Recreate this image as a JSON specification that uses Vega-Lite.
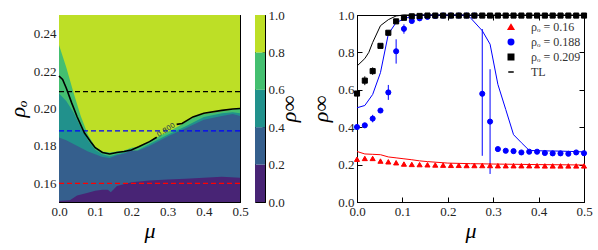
{
  "$schema": "https://vega.github.io/schema/vega-lite/v6.json",
  "padding": {"left": 5, "top": 8, "right": 5, "bottom": 5},
  "background": "white",
  "spacing": 9,
  "resolve": {"scale": {"color": "independent", "stroke": "independent", "shape": "independent"}},
  "config": {
    "view": {"stroke": "black", "strokeWidth": 1},
    "font": "Liberation Serif, DejaVu Serif, serif",
    "axis": {"grid": false, "labelFont": "Liberation Serif, DejaVu Serif, serif", "labelFontSize": 13, "labelColor": "#222222", "labelOverlap": false, "labelFlush": false, "tickColor": "black", "domainColor": "black", "tickSize": -5, "labelPadding": 8, "titleFont": "Liberation Serif, DejaVu Serif, serif", "titleFontSize": 22, "titleFontStyle": "italic", "titleFontWeight": "normal", "titleColor": "black"},
    "legend": {"padding": 0}
  },
  "datasets": {
    "b08": [
      {"mu": 0, "rho": 0.234}, {"mu": 0.02, "rho": 0.222}, {"mu": 0.04, "rho": 0.2085}, {"mu": 0.06, "rho": 0.196},
      {"mu": 0.08, "rho": 0.186}, {"mu": 0.1, "rho": 0.1795}, {"mu": 0.12, "rho": 0.177}, {"mu": 0.14, "rho": 0.1765},
      {"mu": 0.16, "rho": 0.177}, {"mu": 0.18, "rho": 0.1775}, {"mu": 0.2, "rho": 0.179}, {"mu": 0.22, "rho": 0.1795},
      {"mu": 0.25, "rho": 0.1825}, {"mu": 0.28, "rho": 0.1855}, {"mu": 0.3, "rho": 0.1875}, {"mu": 0.33, "rho": 0.1905},
      {"mu": 0.36, "rho": 0.194}, {"mu": 0.38, "rho": 0.196}, {"mu": 0.4, "rho": 0.197}, {"mu": 0.45, "rho": 0.1985}, {"mu": 0.5, "rho": 0.2}
    ],
    "b06": [
      {"mu": 0, "rho": 0.208}, {"mu": 0.02, "rho": 0.204}, {"mu": 0.04, "rho": 0.198}, {"mu": 0.06, "rho": 0.19},
      {"mu": 0.08, "rho": 0.183}, {"mu": 0.1, "rho": 0.178}, {"mu": 0.12, "rho": 0.1755}, {"mu": 0.14, "rho": 0.1745},
      {"mu": 0.16, "rho": 0.1755}, {"mu": 0.18, "rho": 0.1765}, {"mu": 0.2, "rho": 0.178}, {"mu": 0.21, "rho": 0.176},
      {"mu": 0.22, "rho": 0.178}, {"mu": 0.25, "rho": 0.181}, {"mu": 0.3, "rho": 0.186}, {"mu": 0.35, "rho": 0.1905},
      {"mu": 0.4, "rho": 0.1955}, {"mu": 0.45, "rho": 0.1975}, {"mu": 0.48, "rho": 0.198}, {"mu": 0.5, "rho": 0.1975}
    ],
    "b04": [
      {"mu": 0, "rho": 0.1845}, {"mu": 0.02, "rho": 0.183}, {"mu": 0.04, "rho": 0.181}, {"mu": 0.06, "rho": 0.179},
      {"mu": 0.08, "rho": 0.177}, {"mu": 0.1, "rho": 0.1755}, {"mu": 0.12, "rho": 0.174}, {"mu": 0.14, "rho": 0.1735},
      {"mu": 0.16, "rho": 0.175}, {"mu": 0.18, "rho": 0.176}, {"mu": 0.2, "rho": 0.1775}, {"mu": 0.22, "rho": 0.1775},
      {"mu": 0.25, "rho": 0.18}, {"mu": 0.3, "rho": 0.185}, {"mu": 0.35, "rho": 0.1895}, {"mu": 0.4, "rho": 0.194},
      {"mu": 0.45, "rho": 0.196}, {"mu": 0.48, "rho": 0.197}, {"mu": 0.5, "rho": 0.196}
    ],
    "b02": [
      {"mu": 0, "rho": 0.1505}, {"mu": 0.03, "rho": 0.151}, {"mu": 0.05, "rho": 0.1535}, {"mu": 0.08, "rho": 0.155},
      {"mu": 0.1, "rho": 0.156}, {"mu": 0.12, "rho": 0.1565}, {"mu": 0.135, "rho": 0.1565}, {"mu": 0.143, "rho": 0.1552},
      {"mu": 0.16, "rho": 0.1585}, {"mu": 0.2, "rho": 0.1605}, {"mu": 0.25, "rho": 0.1615}, {"mu": 0.3, "rho": 0.162},
      {"mu": 0.35, "rho": 0.1625}, {"mu": 0.4, "rho": 0.163}, {"mu": 0.45, "rho": 0.1635}, {"mu": 0.5, "rho": 0.163}
    ],
    "k08": [
      {"seg": "a", "mu": 0, "rho": 0.2174}, {"seg": "a", "mu": 0.01, "rho": 0.2155}, {"seg": "a", "mu": 0.02, "rho": 0.211},
      {"seg": "a", "mu": 0.035, "rho": 0.203}, {"seg": "a", "mu": 0.05, "rho": 0.1956}, {"seg": "a", "mu": 0.07, "rho": 0.187},
      {"seg": "a", "mu": 0.09, "rho": 0.1815}, {"seg": "a", "mu": 0.1, "rho": 0.179}, {"seg": "a", "mu": 0.12, "rho": 0.1765},
      {"seg": "a", "mu": 0.14, "rho": 0.1757}, {"seg": "a", "mu": 0.16, "rho": 0.1765}, {"seg": "a", "mu": 0.18, "rho": 0.177},
      {"seg": "a", "mu": 0.2, "rho": 0.1778}, {"seg": "a", "mu": 0.22, "rho": 0.1795}, {"seg": "a", "mu": 0.25, "rho": 0.1823},
      {"seg": "a", "mu": 0.27, "rho": 0.1846},
      {"seg": "b", "mu": 0.325, "rho": 0.1915}, {"seg": "b", "mu": 0.34, "rho": 0.192}, {"seg": "b", "mu": 0.37, "rho": 0.1955},
      {"seg": "b", "mu": 0.4, "rho": 0.1975}, {"seg": "b", "mu": 0.45, "rho": 0.199}, {"seg": "b", "mu": 0.48, "rho": 0.1997},
      {"seg": "b", "mu": 0.5, "rho": 0.2}
    ],
    "tl": [
      {"series": "ρₒ = 0.16", "mu": 0, "rho": 0.27}, {"series": "ρₒ = 0.16", "mu": 0.0172, "rho": 0.257}, {"series": "ρₒ = 0.16", "mu": 0.0345, "rho": 0.255},
      {"series": "ρₒ = 0.16", "mu": 0.0517, "rho": 0.253}, {"series": "ρₒ = 0.16", "mu": 0.069, "rho": 0.241}, {"series": "ρₒ = 0.16", "mu": 0.0862, "rho": 0.236},
      {"series": "ρₒ = 0.16", "mu": 0.1034, "rho": 0.231}, {"series": "ρₒ = 0.16", "mu": 0.1207, "rho": 0.226}, {"series": "ρₒ = 0.16", "mu": 0.1379, "rho": 0.22},
      {"series": "ρₒ = 0.16", "mu": 0.1552, "rho": 0.216}, {"series": "ρₒ = 0.16", "mu": 0.1724, "rho": 0.213}, {"series": "ρₒ = 0.16", "mu": 0.2, "rho": 0.208},
      {"series": "ρₒ = 0.16", "mu": 0.25, "rho": 0.205}, {"series": "ρₒ = 0.16", "mu": 0.3, "rho": 0.203}, {"series": "ρₒ = 0.16", "mu": 0.4, "rho": 0.2},
      {"series": "ρₒ = 0.16", "mu": 0.5, "rho": 0.198},
      {"series": "ρₒ = 0.188", "mu": 0, "rho": 0.504}, {"series": "ρₒ = 0.188", "mu": 0.0172, "rho": 0.516}, {"series": "ρₒ = 0.188", "mu": 0.0345, "rho": 0.575},
      {"series": "ρₒ = 0.188", "mu": 0.0517, "rho": 0.692}, {"series": "ρₒ = 0.188", "mu": 0.069, "rho": 0.898}, {"series": "ρₒ = 0.188", "mu": 0.0862, "rho": 0.96},
      {"series": "ρₒ = 0.188", "mu": 0.1034, "rho": 0.978}, {"series": "ρₒ = 0.188", "mu": 0.1207, "rho": 0.995}, {"series": "ρₒ = 0.188", "mu": 0.1379, "rho": 1.0},
      {"series": "ρₒ = 0.188", "mu": 0.2335, "rho": 1.0}, {"series": "ρₒ = 0.188", "mu": 0.248, "rho": 0.99}, {"series": "ρₒ = 0.188", "mu": 0.2759, "rho": 0.916},
      {"series": "ρₒ = 0.188", "mu": 0.2931, "rho": 0.844}, {"series": "ρₒ = 0.188", "mu": 0.3103, "rho": 0.629}, {"series": "ρₒ = 0.188", "mu": 0.3276, "rho": 0.495},
      {"series": "ρₒ = 0.188", "mu": 0.3448, "rho": 0.36}, {"series": "ρₒ = 0.188", "mu": 0.3621, "rho": 0.317}, {"series": "ρₒ = 0.188", "mu": 0.3793, "rho": 0.276},
      {"series": "ρₒ = 0.188", "mu": 0.4, "rho": 0.274}, {"series": "ρₒ = 0.188", "mu": 0.45, "rho": 0.272}, {"series": "ρₒ = 0.188", "mu": 0.5, "rho": 0.268},
      {"series": "ρₒ = 0.209", "mu": 0, "rho": 0.727}, {"series": "ρₒ = 0.209", "mu": 0.0172, "rho": 0.767}, {"series": "ρₒ = 0.209", "mu": 0.026, "rho": 0.8},
      {"series": "ρₒ = 0.209", "mu": 0.0345, "rho": 0.853}, {"series": "ρₒ = 0.209", "mu": 0.0517, "rho": 0.943}, {"series": "ρₒ = 0.209", "mu": 0.069, "rho": 0.975},
      {"series": "ρₒ = 0.209", "mu": 0.0862, "rho": 0.995}, {"series": "ρₒ = 0.209", "mu": 0.1034, "rho": 1.0}, {"series": "ρₒ = 0.209", "mu": 0.5, "rho": 1.0}
    ],
    "pts": [
      {"series": "ρₒ = 0.16", "mu": 0, "rho": 0.229}, {"series": "ρₒ = 0.16", "mu": 0.0172, "rho": 0.233}, {"series": "ρₒ = 0.16", "mu": 0.0345, "rho": 0.233},
      {"series": "ρₒ = 0.16", "mu": 0.0517, "rho": 0.219}, {"series": "ρₒ = 0.16", "mu": 0.069, "rho": 0.215}, {"series": "ρₒ = 0.16", "mu": 0.0862, "rho": 0.21},
      {"series": "ρₒ = 0.16", "mu": 0.1034, "rho": 0.203}, {"series": "ρₒ = 0.16", "mu": 0.1207, "rho": 0.201}, {"series": "ρₒ = 0.16", "mu": 0.1379, "rho": 0.2},
      {"series": "ρₒ = 0.16", "mu": 0.1552, "rho": 0.199}, {"series": "ρₒ = 0.16", "mu": 0.1724, "rho": 0.198}, {"series": "ρₒ = 0.16", "mu": 0.1897, "rho": 0.197},
      {"series": "ρₒ = 0.16", "mu": 0.2069, "rho": 0.196}, {"series": "ρₒ = 0.16", "mu": 0.2241, "rho": 0.196}, {"series": "ρₒ = 0.16", "mu": 0.2414, "rho": 0.195},
      {"series": "ρₒ = 0.16", "mu": 0.2586, "rho": 0.195}, {"series": "ρₒ = 0.16", "mu": 0.2759, "rho": 0.195}, {"series": "ρₒ = 0.16", "mu": 0.2931, "rho": 0.195},
      {"series": "ρₒ = 0.16", "mu": 0.3103, "rho": 0.194}, {"series": "ρₒ = 0.16", "mu": 0.3276, "rho": 0.194}, {"series": "ρₒ = 0.16", "mu": 0.3448, "rho": 0.194},
      {"series": "ρₒ = 0.16", "mu": 0.3621, "rho": 0.194}, {"series": "ρₒ = 0.16", "mu": 0.3793, "rho": 0.194}, {"series": "ρₒ = 0.16", "mu": 0.3966, "rho": 0.194},
      {"series": "ρₒ = 0.16", "mu": 0.4138, "rho": 0.193}, {"series": "ρₒ = 0.16", "mu": 0.431, "rho": 0.193}, {"series": "ρₒ = 0.16", "mu": 0.4483, "rho": 0.193},
      {"series": "ρₒ = 0.16", "mu": 0.4655, "rho": 0.193}, {"series": "ρₒ = 0.16", "mu": 0.4828, "rho": 0.193}, {"series": "ρₒ = 0.16", "mu": 0.5, "rho": 0.193},
      {"series": "ρₒ = 0.188", "mu": 0, "rho": 0.401}, {"series": "ρₒ = 0.188", "mu": 0.0172, "rho": 0.41}, {"series": "ρₒ = 0.188", "mu": 0.0345, "rho": 0.446, "lo": 0.426, "hi": 0.466},
      {"series": "ρₒ = 0.188", "mu": 0.0517, "rho": 0.489, "lo": 0.479, "hi": 0.499}, {"series": "ρₒ = 0.188", "mu": 0.069, "rho": 0.586, "lo": 0.546, "hi": 0.626}, {"series": "ρₒ = 0.188", "mu": 0.0862, "rho": 0.806, "lo": 0.74, "hi": 0.87},
      {"series": "ρₒ = 0.188", "mu": 0.1034, "rho": 0.926, "lo": 0.9, "hi": 0.95}, {"series": "ρₒ = 0.188", "mu": 0.1207, "rho": 0.968}, {"series": "ρₒ = 0.188", "mu": 0.1379, "rho": 0.982},
      {"series": "ρₒ = 0.188", "mu": 0.1552, "rho": 0.99}, {"series": "ρₒ = 0.188", "mu": 0.1724, "rho": 0.995}, {"series": "ρₒ = 0.188", "mu": 0.1897, "rho": 0.997},
      {"series": "ρₒ = 0.188", "mu": 0.2069, "rho": 0.997}, {"series": "ρₒ = 0.188", "mu": 0.2241, "rho": 0.997}, {"series": "ρₒ = 0.188", "mu": 0.2414, "rho": 0.997},
      {"series": "ρₒ = 0.188", "mu": 0.2586, "rho": 0.997}, {"series": "ρₒ = 0.188", "mu": 0.2759, "rho": 0.579, "lo": 0.247, "hi": 0.925}, {"series": "ρₒ = 0.188", "mu": 0.2931, "rho": 0.43, "lo": 0.15, "hi": 0.71},
      {"series": "ρₒ = 0.188", "mu": 0.3103, "rho": 0.283}, {"series": "ρₒ = 0.188", "mu": 0.3276, "rho": 0.274}, {"series": "ρₒ = 0.188", "mu": 0.3448, "rho": 0.272},
      {"series": "ρₒ = 0.188", "mu": 0.3621, "rho": 0.265}, {"series": "ρₒ = 0.188", "mu": 0.3793, "rho": 0.269}, {"series": "ρₒ = 0.188", "mu": 0.3966, "rho": 0.269},
      {"series": "ρₒ = 0.188", "mu": 0.4138, "rho": 0.262}, {"series": "ρₒ = 0.188", "mu": 0.431, "rho": 0.26}, {"series": "ρₒ = 0.188", "mu": 0.4483, "rho": 0.26},
      {"series": "ρₒ = 0.188", "mu": 0.4655, "rho": 0.258}, {"series": "ρₒ = 0.188", "mu": 0.4828, "rho": 0.265}, {"series": "ρₒ = 0.188", "mu": 0.5, "rho": 0.261},
      {"series": "ρₒ = 0.209", "mu": 0, "rho": 0.58, "lo": 0.57, "hi": 0.59}, {"series": "ρₒ = 0.209", "mu": 0.0172, "rho": 0.649, "lo": 0.625, "hi": 0.672}, {"series": "ρₒ = 0.209", "mu": 0.0345, "rho": 0.7, "lo": 0.68, "hi": 0.72},
      {"series": "ρₒ = 0.209", "mu": 0.0517, "rho": 0.835, "lo": 0.825, "hi": 0.845}, {"series": "ρₒ = 0.209", "mu": 0.069, "rho": 0.905, "lo": 0.895, "hi": 0.915}, {"series": "ρₒ = 0.209", "mu": 0.0862, "rho": 0.966},
      {"series": "ρₒ = 0.209", "mu": 0.1034, "rho": 0.985}, {"series": "ρₒ = 0.209", "mu": 0.1207, "rho": 0.993}, {"series": "ρₒ = 0.209", "mu": 0.1379, "rho": 0.995},
      {"series": "ρₒ = 0.209", "mu": 0.1552, "rho": 0.997}, {"series": "ρₒ = 0.209", "mu": 0.1724, "rho": 0.997}, {"series": "ρₒ = 0.209", "mu": 0.1897, "rho": 0.997},
      {"series": "ρₒ = 0.209", "mu": 0.2069, "rho": 0.997}, {"series": "ρₒ = 0.209", "mu": 0.2241, "rho": 0.997}, {"series": "ρₒ = 0.209", "mu": 0.2414, "rho": 0.997},
      {"series": "ρₒ = 0.209", "mu": 0.2586, "rho": 0.997}, {"series": "ρₒ = 0.209", "mu": 0.2759, "rho": 0.997}, {"series": "ρₒ = 0.209", "mu": 0.2931, "rho": 0.997},
      {"series": "ρₒ = 0.209", "mu": 0.3103, "rho": 0.997}, {"series": "ρₒ = 0.209", "mu": 0.3276, "rho": 0.997}, {"series": "ρₒ = 0.209", "mu": 0.3448, "rho": 0.997},
      {"series": "ρₒ = 0.209", "mu": 0.3621, "rho": 0.997}, {"series": "ρₒ = 0.209", "mu": 0.3793, "rho": 0.997}, {"series": "ρₒ = 0.209", "mu": 0.3966, "rho": 0.997},
      {"series": "ρₒ = 0.209", "mu": 0.4138, "rho": 0.997}, {"series": "ρₒ = 0.209", "mu": 0.431, "rho": 0.997}, {"series": "ρₒ = 0.209", "mu": 0.4483, "rho": 0.997},
      {"series": "ρₒ = 0.209", "mu": 0.4655, "rho": 0.997}, {"series": "ρₒ = 0.209", "mu": 0.4828, "rho": 0.997}, {"series": "ρₒ = 0.209", "mu": 0.5, "rho": 0.997}
    ]
  },
  "hconcat": [
    {
      "spacing": 5,
      "resolve": {"scale": {"color": "independent"}},
      "hconcat": [
        {
          "width": 181,
          "height": 187,
          "resolve": {"axis": {"x": "independent", "y": "independent"}},
          "layer": [
            {
              "data": {"values": [{"mu": 0, "mu2": 0.5, "rho": 0.15, "rho2": 0.25}]},
              "mark": {"type": "rect", "color": "#bddf26"},
              "encoding": {
                "x": {"field": "mu", "type": "quantitative", "scale": {"domain": [0, 0.5], "nice": false, "zero": false}, "axis": {"orient": "bottom", "values": [0, 0.1, 0.2, 0.3, 0.4, 0.5], "format": ".1f", "title": "μ", "titlePadding": 2, "labelOverlap": false}},
                "x2": {"field": "mu2"},
                "y": {"field": "rho", "type": "quantitative", "scale": {"domain": [0.15, 0.25], "nice": false, "zero": false}, "axis": {"orient": "left", "values": [0.16, 0.18, 0.2, 0.22, 0.24], "format": ".2f", "title": "ρₒ", "titlePadding": 4, "labelOverlap": false}},
                "y2": {"field": "rho2"}
              }
            },
            {
              "data": {"name": "b08"},
              "mark": {"type": "area", "color": "#44bf70"},
              "encoding": {"x": {"field": "mu", "type": "quantitative", "axis": null}, "y": {"field": "rho", "type": "quantitative", "axis": null}, "y2": {"datum": 0.15}}
            },
            {
              "data": {"name": "b06"},
              "mark": {"type": "area", "color": "#21918c"},
              "encoding": {"x": {"field": "mu", "type": "quantitative", "axis": null}, "y": {"field": "rho", "type": "quantitative", "axis": null}, "y2": {"datum": 0.15}}
            },
            {
              "data": {"name": "b04"},
              "mark": {"type": "area", "color": "#355f8d"},
              "encoding": {"x": {"field": "mu", "type": "quantitative", "axis": null}, "y": {"field": "rho", "type": "quantitative", "axis": null}, "y2": {"datum": 0.15}}
            },
            {
              "data": {"name": "b02"},
              "mark": {"type": "area", "color": "#482475"},
              "encoding": {"x": {"field": "mu", "type": "quantitative", "axis": null}, "y": {"field": "rho", "type": "quantitative", "axis": null}, "y2": {"datum": 0.15}}
            },
            {
              "data": {"values": [{"rho": 0.209, "k": "a"}, {"rho": 0.188, "k": "b"}, {"rho": 0.16, "k": "c"}]},
              "mark": {"type": "rule", "strokeDash": [5, 3], "strokeWidth": 1.3},
              "encoding": {
                "y": {"field": "rho", "type": "quantitative", "axis": null},
                "color": {"field": "k", "type": "nominal", "scale": {"domain": ["a", "b", "c"], "range": ["#000000", "#0000ff", "#ff0000"]}, "legend": null}
              }
            },
            {
              "data": {"name": "k08"},
              "mark": {"type": "line", "color": "black", "strokeWidth": 1.6},
              "encoding": {"x": {"field": "mu", "type": "quantitative", "axis": null}, "y": {"field": "rho", "type": "quantitative", "axis": null}, "detail": {"field": "seg"}}
            },
            {
              "data": {"values": [{"mu": 0.296, "rho": 0.1885, "t": "0.800"}]},
              "mark": {"type": "text", "angle": -33, "fontSize": 7, "color": "#1d3a4a", "font": "DejaVu Sans"},
              "encoding": {"x": {"field": "mu", "type": "quantitative", "axis": null}, "y": {"field": "rho", "type": "quantitative", "axis": null}, "text": {"field": "t"}}
            },
            {
              "data": {"name": "b08"},
              "mark": {"type": "point", "opacity": 0},
              "encoding": {
                "x": {"field": "mu", "type": "quantitative", "axis": {"orient": "top", "labels": false, "title": null, "values": [0, 0.1, 0.2, 0.3, 0.4, 0.5]}},
                "y": {"field": "rho", "type": "quantitative", "axis": {"orient": "right", "labels": false, "title": null, "values": [0.16, 0.18, 0.2, 0.22, 0.24]}}
              }
            }
          ]
        },
        {
          "width": 10,
          "height": 187,
          "data": {"values": [{"lo": 0, "hi": 0.2}, {"lo": 0.2, "hi": 0.4}, {"lo": 0.4, "hi": 0.6}, {"lo": 0.6, "hi": 0.8}, {"lo": 0.8, "hi": 1.0}]},
          "mark": {"type": "rect"},
          "encoding": {
            "y": {"field": "lo", "type": "quantitative", "scale": {"domain": [0, 1], "nice": false}, "axis": {"orient": "right", "values": [0, 0.2, 0.4, 0.6, 0.8, 1.0], "format": ".1f", "title": "ρ∞", "titleAngle": 270, "titlePadding": 16, "tickSize": -3, "labelPadding": 6, "labelOverlap": false}},
            "y2": {"field": "hi"},
            "color": {"field": "lo", "type": "ordinal", "scale": {"domain": [0, 0.2, 0.4, 0.6, 0.8], "range": ["#482475", "#355f8d", "#21918c", "#44bf70", "#bddf26"]}, "legend": null}
          }
        }
      ]
    },
    {
      "width": 227,
      "height": 187,
      "resolve": {"axis": {"x": "independent", "y": "independent"}},
      "layer": [
        {
          "data": {"name": "tl"},
          "mark": {"type": "line", "strokeWidth": 1},
          "encoding": {
            "x": {"field": "mu", "type": "quantitative", "scale": {"domain": [0, 0.5], "nice": false}, "axis": {"orient": "bottom", "values": [0, 0.1, 0.2, 0.3, 0.4, 0.5], "format": ".1f", "title": "μ", "titlePadding": 2, "labelOverlap": false}},
            "y": {"field": "rho", "type": "quantitative", "scale": {"domain": [0, 1], "nice": false}, "axis": {"orient": "left", "values": [0, 0.2, 0.4, 0.6, 0.8, 1.0], "format": ".1f", "title": "ρ∞", "titlePadding": 5, "labelOverlap": false}},
            "color": {"field": "series", "type": "nominal", "scale": {"domain": ["ρₒ = 0.16", "ρₒ = 0.188", "ρₒ = 0.209", "TL"], "range": ["#ff0000", "#0000ff", "#000000", "#000000"]}}
          }
        },
        {
          "data": {"name": "pts"},
          "transform": [{"filter": "isValid(datum.lo)"}],
          "mark": {"type": "rule", "strokeWidth": 1},
          "encoding": {
            "x": {"field": "mu", "type": "quantitative", "axis": null},
            "y": {"field": "lo", "type": "quantitative", "axis": null},
            "y2": {"field": "hi"},
            "color": {"field": "series", "type": "nominal"}
          }
        },
        {
          "data": {"name": "pts"},
          "mark": {"type": "point", "filled": true, "size": 26, "strokeWidth": 1, "opacity": 1},
          "encoding": {
            "x": {"field": "mu", "type": "quantitative", "axis": null},
            "y": {"field": "rho", "type": "quantitative", "axis": null},
            "color": {"field": "series", "type": "nominal", "title": "series", "legend": {"title": null, "orient": "none", "legendX": 148, "legendY": 6, "labelFont": "Liberation Serif, DejaVu Serif, serif", "labelFontSize": 12, "labelColor": "#333333", "symbolSize": 30, "symbolStrokeWidth": 1.5, "labelOffset": 14, "rowPadding": 3}},
            "stroke": {"field": "series", "type": "nominal", "title": "series", "scale": {"domain": ["ρₒ = 0.16", "ρₒ = 0.188", "ρₒ = 0.209", "TL"], "range": ["#ff0000", "#0000ff", "#000000", "#000000"]}, "legend": {"title": null, "orient": "none", "legendX": 148, "legendY": 6, "labelFont": "Liberation Serif, DejaVu Serif, serif", "labelFontSize": 12, "labelColor": "#333333", "symbolSize": 30, "symbolStrokeWidth": 1.5, "labelOffset": 14, "rowPadding": 3}},
            "shape": {"field": "series", "type": "nominal", "title": "series", "scale": {"domain": ["ρₒ = 0.16", "ρₒ = 0.188", "ρₒ = 0.209", "TL"], "range": ["triangle-up", "circle", "square", "stroke"]}, "legend": {"title": null, "orient": "none", "legendX": 148, "legendY": 6, "labelFont": "Liberation Serif, DejaVu Serif, serif", "labelFontSize": 12, "labelColor": "#333333", "symbolSize": 30, "symbolStrokeWidth": 1.5, "labelOffset": 14, "rowPadding": 3}}
          }
        },
        {
          "data": {"name": "tl"},
          "mark": {"type": "point", "opacity": 0},
          "encoding": {
            "x": {"field": "mu", "type": "quantitative", "axis": {"orient": "top", "labels": false, "title": null, "values": [0, 0.1, 0.2, 0.3, 0.4, 0.5]}},
            "y": {"field": "rho", "type": "quantitative", "axis": {"orient": "right", "labels": false, "title": null, "values": [0, 0.2, 0.4, 0.6, 0.8, 1.0]}}
          }
        }
      ]
    }
  ]
}
